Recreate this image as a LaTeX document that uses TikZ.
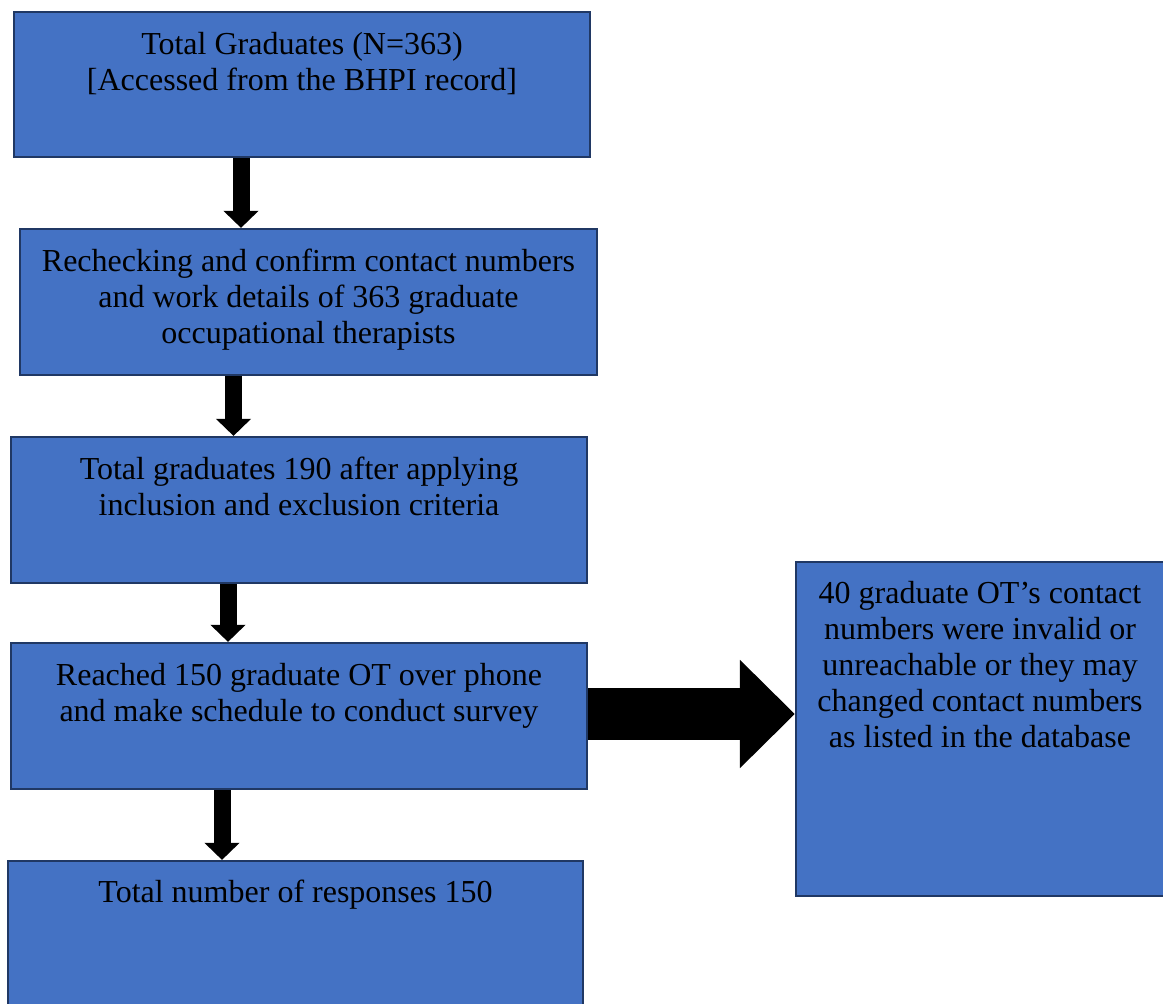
\documentclass[tikz,border=0pt]{standalone}
\usepackage{fontspec}
\setmainfont{Liberation Serif}
\usetikzlibrary{arrows.meta,positioning}
\definecolor{boxblue}{HTML}{4472C4}
\definecolor{boxedge}{HTML}{203864}
\tikzset{
  stagebox/.style={rectangle, draw=boxedge, fill=boxblue, line width=1.1pt, inner sep=0pt},
  stagetext/.style={anchor=north, align=center, inner sep=0pt, font=\fontsize{16}{18}\selectfont},
  downarrow/.style={line width=8.5pt, -{Triangle[width=17pt,length=8.5pt]}},
  sidearrow/.style={line width=26pt, -{Triangle[width=52.5pt,length=27.5pt]}}
}

\begin{document}
\begin{tikzpicture}[x=0.5pt,y=-0.5pt]
\useasboundingbox (0,0) rectangle (1163,1003);
% boxes of the main column
\node[stagebox, minimum width=288pt, minimum height=72.5pt] (total) at (302,84.5) {};
\node[stagebox, minimum width=288.5pt, minimum height=73pt] (recheck) at (308.5,302) {};
\node[stagebox, minimum width=288pt, minimum height=73pt] (criteria) at (299,510) {};
\node[stagebox, minimum width=288pt, minimum height=73pt] (reached) at (299,716) {};
\node[stagebox, minimum width=287.5pt, minimum height=80pt] (responses) at (295.5,941) {};
% side box
\node[stagebox, minimum width=184pt, minimum height=167pt] (lost) at (980,729) {};
% texts
\node[stagetext] (totaltxt) at ([yshift=-10.5pt]total.north) {Total Graduates (N=363)\\{}[Accessed from the BHPI record]};
\node[stagetext] (rechecktxt) at ([yshift=-10.5pt]recheck.north) {Rechecking and confirm contact numbers\\and work details of 363 graduate\\occupational therapists};
\node[stagetext] (criteriatxt) at ([yshift=-10.5pt]criteria.north) {Total graduates 190 after applying\\inclusion and exclusion criteria};
\node[stagetext] (reachedtxt) at ([yshift=-10.5pt]reached.north) {Reached 150 graduate OT over phone\\and make schedule to conduct survey};
\node[stagetext] (responsestxt) at ([yshift=-10pt]responses.north) {Total number of responses 150};
\node[stagetext] (losttxt) at ([yshift=-10pt]lost.north) {40 graduate OT’s contact\\numbers were invalid or\\unreachable or they may\\changed contact numbers\\as listed in the database};
% arrows
\draw[downarrow] ([xshift=-30.5pt]total.south) -- ([xshift=-30.5pt]total.south |- recheck.north);
\draw[downarrow] ([xshift=-37.5pt]recheck.south) -- ([xshift=-37.5pt]recheck.south |- criteria.north);
\draw[downarrow] ([xshift=-35.5pt]criteria.south) -- ([xshift=-35.5pt]criteria.south |- reached.north);
\draw[downarrow] ([xshift=-38.5pt]reached.south) -- ([xshift=-38.5pt]reached.south |- responses.north);
\draw[sidearrow] ([yshift=1pt]reached.east) -- ([yshift=1pt]reached.east -| lost.west);
\end{tikzpicture}
\end{document}
